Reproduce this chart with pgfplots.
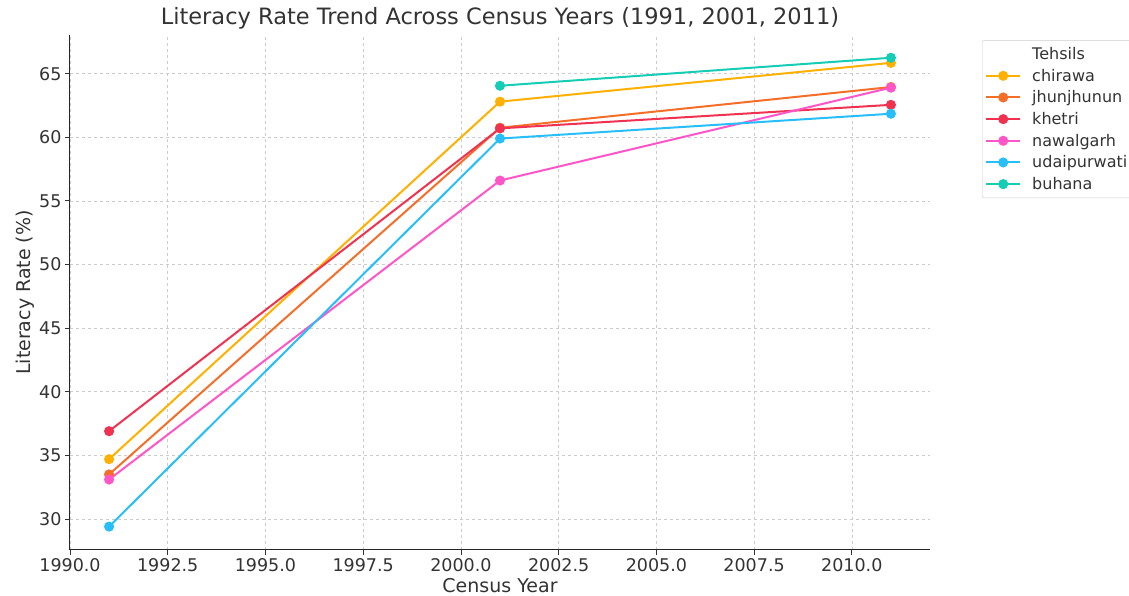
\documentclass[border=0pt]{standalone}
\usepackage{pgfplots}
\pgfplotsset{compat=1.18}
\usepackage{fontspec}
\setmainfont{DejaVu Sans}
\definecolor{cchirawa}{RGB}{255,176,0}
\definecolor{cjhun}{RGB}{245,110,40}
\definecolor{ckhetri}{RGB}{240,50,80}
\definecolor{cnawal}{RGB}{255,85,200}
\definecolor{cudai}{RGB}{40,190,250}
\definecolor{cbuhana}{RGB}{20,205,180}
\begin{document}
\begin{tikzpicture}
\useasboundingbox (-70pt,-46pt) rectangle (1059pt,550pt);
\begin{axis}[
  at={(0,0)}, anchor=south west,
  scale only axis, width=860pt, height=515pt,
  xmin=1990, xmax=2012, ymin=27.56, ymax=68.04,
  axis lines=left, axis line style={-, line width=1pt, black!85},
  xtick={1990,1992.5,1995,1997.5,2000,2002.5,2005,2007.5,2010},
  ytick={30,35,40,45,50,55,60,65},
  xticklabel style={/pgf/number format/.cd, fixed, fixed zerofill, precision=1, 1000 sep={}},
  yticklabel style={/pgf/number format/.cd, fixed, precision=0},
  /pgf/number format/assume math mode=true,
  tick label style={font=\fontsize{17.5}{20}\selectfont, text=black!80},
  label style={font=\fontsize{19}{22}\selectfont, text=black!80},
  tick align=outside, major tick length=5pt, tick style={black!80, line width=0.8pt},
  grid=major, major grid style={dashed, black!20, line width=0.6pt},
  xlabel={Census Year}, ylabel={Literacy Rate (\%)},
  xlabel style={yshift=0pt}, ylabel style={yshift=-2pt},
  title={Literacy Rate Trend Across Census Years (1991, 2001, 2011)},
  title style={font=\fontsize{22.5}{26}\selectfont, text=black!80, yshift=-4pt},
  every axis plot/.append style={line width=2pt, mark=*, mark size=4pt},
  legend image code/.code={\draw[mark repeat=2, mark phase=2] plot coordinates {(0pt,0pt)(17pt,0pt)(34pt,0pt)};},
  legend style={at={(1.0605,0.990)}, anchor=north west, font=\fontsize{16}{19}\selectfont,
    draw=black!20, rounded corners=2pt, text=black!80, row sep=4pt, inner xsep=3pt, inner ysep=5pt},
  legend cell align=left,
]
\addlegendimage{empty legend}
\addlegendentry{\hspace*{9pt}Tehsils}
\addplot[color=cchirawa] coordinates {(1991,34.7) (2001,62.8) (2011,65.85)};
\addlegendentry{\hspace*{9pt}chirawa}
\addplot[color=cjhun] coordinates {(1991,33.5) (2001,60.75) (2011,63.95)};
\addlegendentry{\hspace*{9pt}jhunjhunun}
\addplot[color=ckhetri] coordinates {(1991,36.9) (2001,60.7) (2011,62.55)};
\addlegendentry{\hspace*{9pt}khetri}
\addplot[color=cnawal] coordinates {(1991,33.1) (2001,56.6) (2011,63.9)};
\addlegendentry{\hspace*{9pt}nawalgarh}
\addplot[color=cudai] coordinates {(1991,29.4) (2001,59.9) (2011,61.85)};
\addlegendentry{\hspace*{9pt}udaipurwati}
\addplot[color=cbuhana] coordinates {(2001,64.05) (2011,66.25)};
\addlegendentry{\hspace*{9pt}buhana}
\end{axis}
\end{tikzpicture}
\end{document}
